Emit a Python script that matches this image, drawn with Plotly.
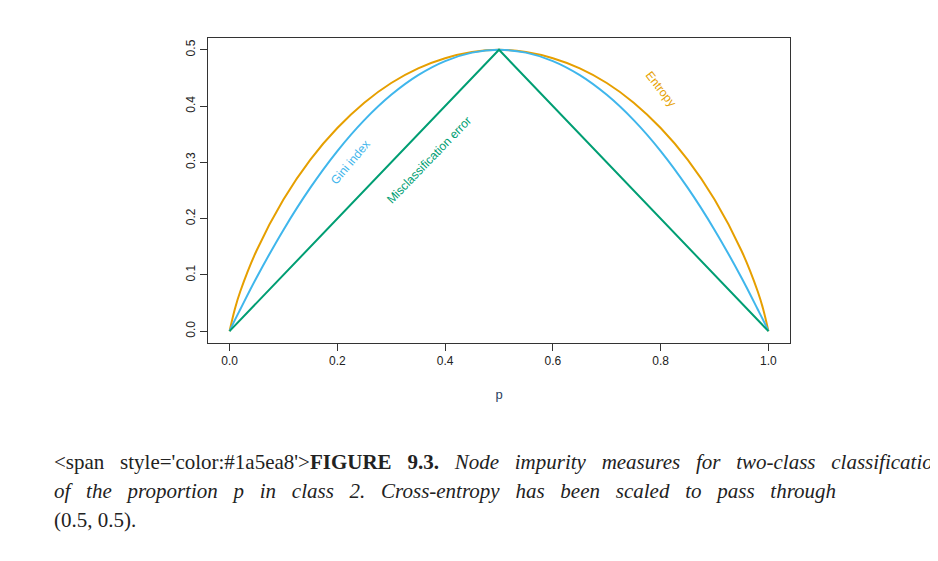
import plotly.graph_objects as go

# proportion p in class 2 and impurity values
p = [0, 0.01, 0.02, 0.05, 0.1, 0.15, 0.2, 0.25, 0.3, 0.35, 0.4, 0.45, 0.5,
     0.55, 0.6, 0.65, 0.7, 0.75, 0.8, 0.85, 0.9, 0.95, 0.98, 0.99, 1]
gini = [0, 0.02, 0.039, 0.095, 0.18, 0.255, 0.32, 0.375, 0.42, 0.455, 0.48, 0.495, 0.5,
        0.495, 0.48, 0.455, 0.42, 0.375, 0.32, 0.255, 0.18, 0.095, 0.039, 0.02, 0]
entropy = [0, 0.040, 0.071, 0.143, 0.234, 0.305, 0.361, 0.406, 0.441, 0.467, 0.485, 0.496, 0.5,
           0.496, 0.485, 0.467, 0.441, 0.406, 0.361, 0.305, 0.234, 0.143, 0.071, 0.040, 0]
p_mis = [0, 0.5, 1]
misclass = [0, 0.5, 0]

orange = "#E69F00"
blue = "#3FB6EC"
green = "#009E73"

fig = go.Figure()
fig.add_trace(go.Scatter(x=p, y=entropy, mode="lines", line=dict(color=orange, width=2), line_shape="spline"))
fig.add_trace(go.Scatter(x=p, y=gini, mode="lines", line=dict(color=blue, width=2), line_shape="spline"))
fig.add_trace(go.Scatter(x=p_mis, y=misclass, mode="lines", line=dict(color=green, width=2)))

lab = dict(family="Liberation Sans, Arial", size=12)
fig.add_annotation(x=0.225, y=0.30, text="Gini index", showarrow=False, textangle=-50, font=dict(color=blue, **lab))
fig.add_annotation(x=0.37, y=0.305, text="Misclassification error", showarrow=False, textangle=-46, font=dict(color=green, **lab))
fig.add_annotation(x=0.8, y=0.43, text="Entropy", showarrow=False, textangle=52, font=dict(color=orange, **lab))

serif = "Liberation Serif, Times New Roman, serif"
sp = "&nbsp;"
caption = [
    "<span style='color:#1a5ea8'><b>FIGURE 9.3.</b></span> <i>Node impurity measures for two-class classification, as a function</i>",
    "<i>of the proportion p in class 2. Cross-entropy has been scaled to pass through</i>",
    "(0.5, 0.5).",
]
caption_y = [-0.39, -0.485, -0.58]
for i, (t, yy) in enumerate(zip(caption, caption_y)):
    if i < 2:
        # stretch word gaps a little to mimic the justified caption
        t = t.replace(" ", sp + sp + " ")
    fig.add_annotation(xref="paper", yref="paper", x=-0.268, y=yy, xanchor="left", yanchor="middle",
                       text=t, showarrow=False, font=dict(family=serif, size=21, color="#222"))

ax = dict(showgrid=False, zeroline=False, showline=True, mirror=True, linecolor="#333", linewidth=1,
          ticks="outside", ticklen=7, tickcolor="#333", automargin=False,
          tickfont=dict(family="Liberation Sans, Arial", size=12, color="#222"))
fig.update_layout(
    width=938, height=561, showlegend=False, plot_bgcolor="white", paper_bgcolor="white",
    margin=dict(l=200, r=156, t=30, b=226),
    xaxis=dict(range=[-0.04, 1.04], tickvals=[0, 0.2, 0.4, 0.6, 0.8, 1.0],
               ticktext=["0.0", "0.2", "0.4", "0.6", "0.8", "1.0"],
               title=dict(text="p", standoff=22, font=dict(family="Liberation Sans, Arial", size=13)), **ax),
    yaxis=dict(range=[-0.021, 0.521], tickvals=[0, 0.1, 0.2, 0.3, 0.4, 0.5],
               ticktext=["0.0", "0.1", "0.2", "0.3", "0.4", "0.5"], tickangle=-90, **ax),
)
fig.write_html("out.html")
